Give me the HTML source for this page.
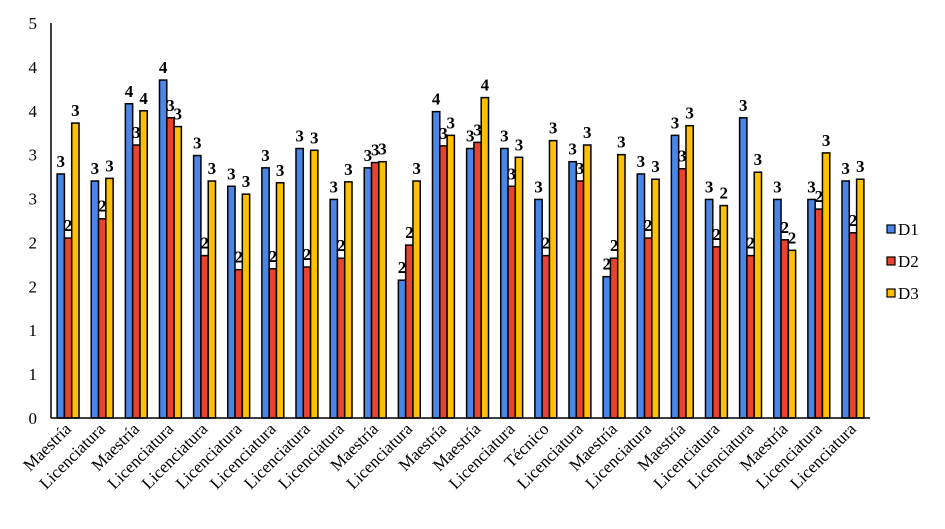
<!DOCTYPE html>
<html><head><meta charset="utf-8"><style>
body{margin:0;background:#fff;}
svg text{font-family:"Liberation Serif",serif;}
</style></head><body>
<svg id="chart" width="945" height="524" xmlns="http://www.w3.org/2000/svg"></svg>
<script>
const categories=["Maestría","Licenciatura","Maestría","Licenciatura","Licenciatura","Licenciatura","Licenciatura","Licenciatura","Licenciatura","Maestría","Licenciatura","Maestría","Maestría","Licenciatura","Técnico","Licenciatura","Maestría","Licenciatura","Maestría","Licenciatura","Licenciatura","Maestría","Licenciatura","Licenciatura"];
const d1=[2.78,2.70,3.58,3.85,2.99,2.64,2.85,3.07,2.49,2.85,1.57,3.49,3.07,3.07,2.49,2.92,1.61,2.78,3.22,2.49,3.42,2.49,2.49,2.70];
const d2=[2.05,2.27,3.11,3.42,1.85,1.69,1.70,1.72,1.82,2.91,1.97,3.10,3.14,2.64,1.85,2.70,1.82,2.05,2.84,1.95,1.85,2.03,2.38,2.11];
const d3=[3.36,2.73,3.50,3.32,2.70,2.55,2.68,3.05,2.69,2.92,2.70,3.22,3.65,2.97,3.16,3.11,3.00,2.72,3.33,2.42,2.80,1.91,3.02,2.72];
const lab1=[3,3,4,4,3,3,3,3,3,3,2,4,3,3,3,3,2,3,3,3,3,3,3,3];
const lab2=[2,2,3,3,2,2,2,2,2,3,2,3,3,3,2,3,2,2,3,2,2,2,2,2];
const lab3=[3,3,4,3,3,3,3,3,3,3,3,3,4,3,3,3,3,3,3,2,3,2,3,3];
const yTicks=[0,0.5,1,1.5,2,2.5,3,3.5,4,4.5];
const yTickLabels=["0","1","1","2","2","3","3","4","4","5"];
const seriesNames=["D1","D2","D3"];
const colors=["#4a86e8","#e8432f","#ffc000"];

const svg=document.getElementById('chart');
const NS="http://www.w3.org/2000/svg";
const x0=51,x1=870,yBase=418,yTop=23,yMax=4.5;
const y=v=>yBase-(v/yMax)*(yBase-yTop);
const gw=(x1-x0)/categories.length;
const cx=i=>x0+(i+0.5)*gw;
function mk(tag,attrs,txt){const e=document.createElementNS(NS,tag);for(const k in attrs)e.setAttribute(k,attrs[k]);if(txt!==undefined)e.textContent=txt;svg.appendChild(e);return e;}

yTicks.forEach((t,i)=>{
  const e=mk('text',{x:37,y:y(t)+6,'text-anchor':'end','font-size':17,fill:'#000'},yTickLabels[i]);
  
  
});
const series=[d1,d2,d3],labs=[lab1,lab2,lab3];
const bw=7.3;
categories.forEach((c,i)=>{
  series.forEach((s,k)=>{
    const bx=cx(i)+(k-1.5)*bw;
    const r=mk('rect',{x:bx,y:y(s[i]),width:bw,height:yBase-y(s[i]),fill:colors[k],stroke:'#000','stroke-width':1.5});
    
    
    const t=mk('text',{x:bx+bw/2,y:y(s[i])-7,'text-anchor':'middle','font-size':17,'font-weight':'bold',fill:'#000'},labs[k][i]);
    
    
  });
  const tx=cx(i)+4,ty=430;
  const t=mk('text',{x:tx,y:ty,'text-anchor':'end','font-size':17,fill:'#000',transform:`rotate(-45 ${tx} ${ty})`},c);
  
  
});
const ax=mk('line',{x1:x0,y1:yTop,x2:x0,y2:yBase,stroke:'#000','stroke-width':1.5});


const bx=mk('line',{x1:x0,y1:yBase,x2:x1,y2:yBase,stroke:'#000','stroke-width':1.5});


seriesNames.forEach((n,k)=>{
  const ly=230+k*32;
  const r=mk('rect',{x:887,y:ly-5,width:8,height:8,fill:colors[k],stroke:'#000','stroke-width':1.2});
  
  
  const t=mk('text',{x:898,y:ly+5,'font-size':17,fill:'#000'},n);
  
  
});
</script>
</body></html>
